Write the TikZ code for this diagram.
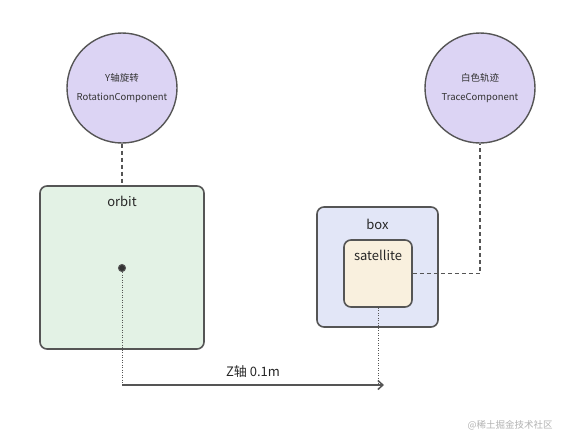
\documentclass[tikz,border=0pt]{standalone}
\usepackage{fontspec}
\setmainfont{Noto Sans CJK SC}
\usepackage{tikz}
\usetikzlibrary{arrows.meta, positioning}
\definecolor{trait}{HTML}{555555}
\definecolor{violet}{HTML}{DCD4F4}
\definecolor{vertclair}{HTML}{E3F2E5}
\definecolor{bleuclair}{HTML}{E2E6F7}
\definecolor{creme}{HTML}{F9F0DE}
\tikzset{
  composant/.style={circle, draw=trait, line width=1.4pt, fill=violet,
    minimum size=110pt, align=center, font=\fontsize{9.5}{11}\selectfont, text=black!80},
  boite/.style={rectangle, rounded corners=7pt, draw=trait, line width=1.6pt,
    inner sep=0pt},
  titre/.style={font=\fontsize{13}{15}\selectfont, text=black!85, inner sep=1pt},
  lien/.style={draw=trait, line width=1.6pt, dash pattern=on 4pt off 3pt},
  repere/.style={draw=trait, line width=0.8pt, dash pattern=on 1pt off 1.5pt},
  fleche/.style={-{Straight Barb[length=5pt, width=9pt]}, line width=1.5pt, color=trait},
}
\begin{document}
\begin{tikzpicture}[x=1pt, y=-1pt]
  \useasboundingbox (0,0) rectangle (567,437);

  % composants
  \node[composant] (rot) at (122,88) {Y轴旋转\\[8pt]RotationComponent};
  \node[composant] (trace) at (480,88) {白色轨迹\\[8pt]TraceComponent};

  % entites
  \node[boite, fill=vertclair, minimum width=164pt, minimum height=163pt] (orbit) at (122,267.5) {};
  \node[titre, below=10pt of orbit.north] (orbittxt) {orbit};
  \node[boite, fill=bleuclair, minimum width=121pt, minimum height=120pt] (box) at (377.5,267) {};
  \node[titre, below=12pt of box.north] (boxtxt) {box};
  \node[boite, fill=creme, minimum width=68pt, minimum height=67pt] (sat) at (378,273.5) {};
  \node[titre, below=10pt of sat.north] (sattxt) {satellite};

  \node[circle, fill=trait!60!black, draw=trait, line width=1pt, inner sep=0pt, minimum size=7pt] (centre) at (122,268) {};

  \coordinate (zdep) at (122,385);
  \coordinate (zarr) at (sat.south |- zdep);

  % liaisons
  \draw[lien] (rot.south) -- (orbit.north);
  \draw[lien] (sat.east) -| (trace.south);
  \draw[repere] (centre) -- (zdep);
  \draw[repere] (sat.south) -- (zarr);
  \draw[fleche] (zdep) -- ([xshift=6pt]zarr) node[midway, above=6pt, titre] (ztxt) {Z轴 0.1m};

  \node[font=\fontsize{9.5}{10}\selectfont, text=black!30] (marque) at (510,425) {@稀土掘金技术社区};
\end{tikzpicture}
\end{document}
